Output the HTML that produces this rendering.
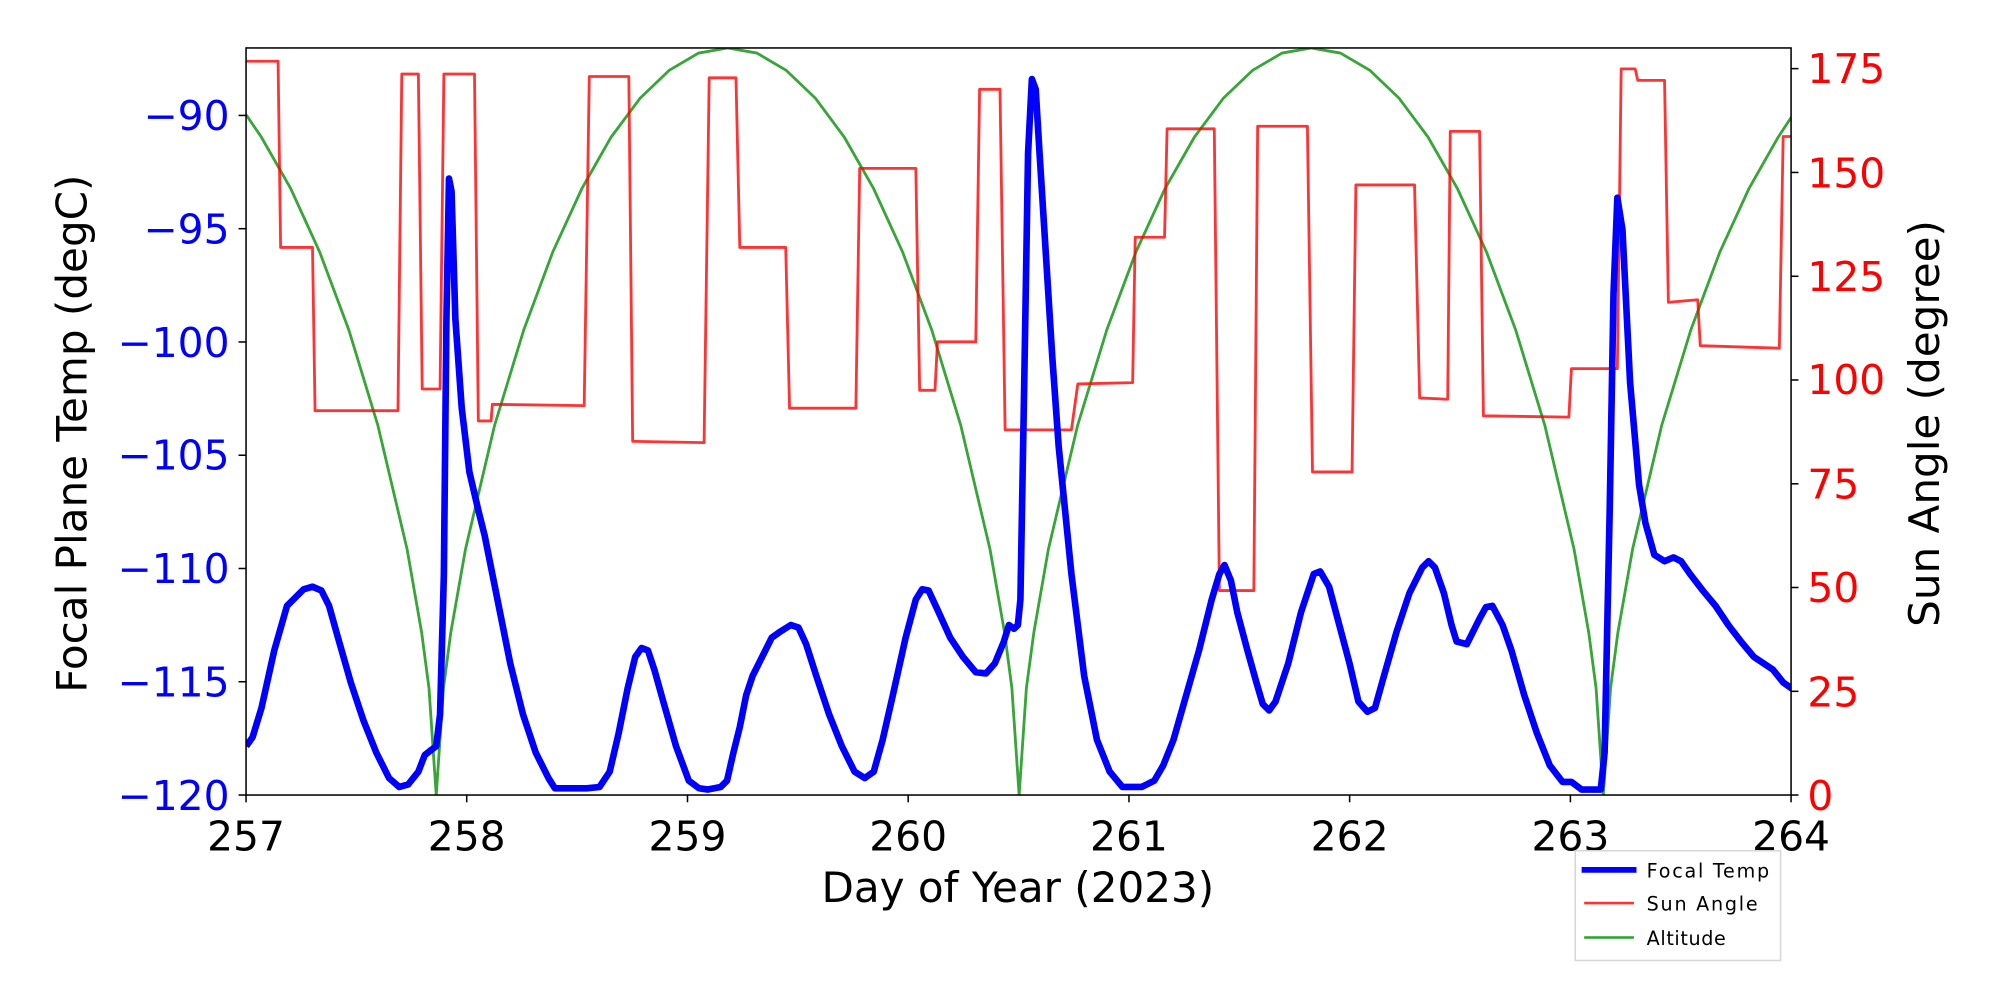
<!DOCTYPE html>
<html><head><meta charset="utf-8"><style>
html,body{margin:0;padding:0;background:#fff;}
svg{display:block;}
text{font-family:"DejaVu Sans","Liberation Sans",sans-serif;}
</style></head><body>
<svg width="2000" height="1000" viewBox="0 0 1568 784" xmlns="http://www.w3.org/2000/svg">
<rect width="1568" height="784" fill="#fff"/>
<defs><clipPath id="c"><rect x="192.9" y="37.6" width="1211.3" height="585.7"/></clipPath></defs>
<g clip-path="url(#c)" fill="none" stroke-linejoin="round">
<path stroke="#2ca02c" stroke-opacity="0.95" stroke-width="2.2" d="M193,90 L204.9,107.5 L227.8,147.6 L250.6,197.5 L273.5,258.7 L296.3,333.7 L319.2,430.8 L330.6,496.1 L336.3,539.3 L342,623.3 L347.7,539.3 L353.4,496.1 L364.9,430.8 L387.7,333.7 L410.6,258.7 L433.4,197.5 L456.3,147.6 L479.1,107.5 L502,76.8 L524.8,55 L547.7,41.6 L570.5,37.6 L593.4,41.6 L616.2,55 L639.1,76.8 L661.9,107.5 L684.8,147.6 L707.6,197.5 L730.5,258.7 L753.3,333.7 L776.2,430.8 L787.6,496.1 L793.3,539.3 L799,623.3 L804.7,539.3 L810.5,496.1 L821.9,430.8 L844.8,333.7 L867.7,258.7 L890.6,197.5 L913.5,147.6 L936.4,107.5 L959.3,76.8 L982.2,55 L1005.1,41.6 L1028,37.6 L1050.9,41.6 L1073.8,55 L1096.7,76.8 L1119.6,107.5 L1142.5,147.6 L1165.4,197.5 L1188.3,258.7 L1211.2,333.7 L1234.1,430.8 L1245.6,496.1 L1251.3,539.3 L1257,623.3 L1262.7,539.3 L1268.4,496.1 L1279.9,430.8 L1302.7,333.7 L1325.6,258.7 L1348.4,197.5 L1371.3,147.6 L1394.1,107.5 L1405,91"/>
<path stroke="#ff0000" stroke-opacity="0.8" stroke-width="2.2" d="M193,48 L218,48 L220,194 L245,194 L247,322 L312,322 L315,58 L328,58 L331,305 L345,305 L348,58 L372,58 L375,330 L385,330 L386,317 L458,318 L462,60 L493,60 L496,346 L552,347 L556,61 L577,61 L580,194 L616,194 L619,320 L671,320 L674,132 L718,132 L721,306 L733,306 L735,268 L765,268 L768,70 L784,70 L788,337 L840,337 L845,301 L888,300 L890,186 L913,186 L915,101 L952,101 L956,463 L983,463 L986,99 L1025,99 L1029,370 L1060,370 L1063,145 L1109,145 L1113,312 L1135,313 L1137,103 L1160,103 L1163,326 L1230,327 L1232,289 L1268,289 L1271,54 L1282,54 L1284,63 L1305,63 L1308,237 L1331,235 L1333,271 L1395,273 L1398,107 L1405,107"/>
<path stroke="#0000ff" stroke-width="5.2" d="M193,585 L198,578 L205,555 L215,510 L225,475 L232,468 L238,462 L245,460 L252,463 L258,475 L265,500 L275,535 L285,565 L295,590 L305,610 L313,617 L320,615 L328,605 L333,592 L338,588 L342,585 L345,560 L348,450 L350,250 L352,140 L354,150 L357,250 L362,320 L368,370 L375,400 L380,420 L390,470 L400,520 L410,560 L420,590 L430,610 L435,618 L460,618 L470,617 L478,605 L485,575 L492,540 L498,515 L503,508 L508,510 L513,525 L520,550 L530,585 L540,612 L548,618 L555,619 L565,617 L570,612 L575,590 L580,570 L585,545 L590,530 L595,520 L600,510 L605,500 L612,495 L620,490 L626,492 L632,505 L640,530 L650,560 L660,585 L670,605 L678,610 L685,605 L692,580 L700,545 L710,500 L718,470 L723,462 L728,463 L735,478 L745,500 L755,515 L765,527 L773,528 L780,520 L787,503 L791,490 L795,493 L798,490 L800,470 L803,300 L806,120 L809,62 L812,70 L815,120 L820,200 L825,280 L830,350 L840,450 L850,530 L860,580 L870,605 L880,617 L895,617 L905,612 L912,600 L920,580 L930,545 L940,510 L950,470 L956,450 L960,443 L965,455 L970,480 L978,510 L985,535 L990,552 L995,557 L1000,550 L1010,520 L1020,480 L1030,450 L1035,448 L1042,460 L1050,490 L1058,520 L1065,550 L1072,558 L1078,555 L1085,530 L1095,495 L1105,465 L1115,445 L1120,440 L1125,445 L1132,465 L1138,490 L1142,503 L1150,505 L1160,485 L1165,476 L1170,475 L1178,490 L1185,510 L1195,545 L1205,575 L1215,600 L1225,613 L1232,613 L1240,619 L1255,619 L1258,590 L1262,400 L1265,230 L1268,155 L1272,180 L1278,300 L1285,380 L1290,410 L1297,435 L1305,440 L1312,437 L1318,440 L1325,450 L1335,463 L1345,475 L1355,490 L1365,503 L1375,515 L1390,525 L1398,535 L1405,540"/>
</g>
<rect x="192.9" y="37.6" width="1211.3" height="585.7" fill="none" stroke="#000" stroke-width="1.2"/>
<g stroke="#000" stroke-width="1.2">
<line x1="192.9" y1="623.3" x2="192.9" y2="629"/><line x1="365.9" y1="623.3" x2="365.9" y2="629"/><line x1="539" y1="623.3" x2="539" y2="629"/><line x1="712" y1="623.3" x2="712" y2="629"/><line x1="885.1" y1="623.3" x2="885.1" y2="629"/><line x1="1058.1" y1="623.3" x2="1058.1" y2="629"/><line x1="1231.2" y1="623.3" x2="1231.2" y2="629"/><line x1="1404.2" y1="623.3" x2="1404.2" y2="629"/>
<line x1="187" y1="623.3" x2="192.9" y2="623.3"/><line x1="187" y1="534.5" x2="192.9" y2="534.5"/><line x1="187" y1="445.7" x2="192.9" y2="445.7"/><line x1="187" y1="356.9" x2="192.9" y2="356.9"/><line x1="187" y1="268.1" x2="192.9" y2="268.1"/><line x1="187" y1="179.3" x2="192.9" y2="179.3"/><line x1="187" y1="90.5" x2="192.9" y2="90.5"/>
<line x1="1404.2" y1="623.3" x2="1410" y2="623.3"/><line x1="1404.2" y1="542" x2="1410" y2="542"/><line x1="1404.2" y1="460.6" x2="1410" y2="460.6"/><line x1="1404.2" y1="379.3" x2="1410" y2="379.3"/><line x1="1404.2" y1="297.9" x2="1410" y2="297.9"/><line x1="1404.2" y1="216.6" x2="1410" y2="216.6"/><line x1="1404.2" y1="135.2" x2="1410" y2="135.2"/><line x1="1404.2" y1="53.8" x2="1410" y2="53.8"/>
</g>
<g font-size="32" text-anchor="middle" fill="#000">
<text x="192.9" y="667">257</text><text x="365.9" y="667">258</text><text x="539" y="667">259</text><text x="712" y="667">260</text><text x="885.1" y="667">261</text><text x="1058.1" y="667">262</text><text x="1231.2" y="667">263</text><text x="1404.2" y="667">264</text>
</g>
<g font-size="32" text-anchor="end" fill="#0000ff">
<text x="180" y="635">−120</text><text x="180" y="546">−115</text><text x="180" y="457">−110</text><text x="180" y="368">−105</text><text x="180" y="280">−100</text><text x="180" y="191">−95</text><text x="180" y="102">−90</text>
</g>
<g font-size="32" text-anchor="start" fill="#ff0000">
<text x="1417" y="635">0</text><text x="1417" y="554">25</text><text x="1417" y="472">50</text><text x="1417" y="391">75</text><text x="1417" y="309">100</text><text x="1417" y="228">125</text><text x="1417" y="147">150</text><text x="1417" y="65">175</text>
</g>
<text x="798" y="707" font-size="33" text-anchor="middle">Day of Year (2023)</text>
<text transform="translate(68,340) rotate(-90)" font-size="33" text-anchor="middle">Focal Plane Temp (degC)</text>
<text transform="translate(1520,332) rotate(-90)" font-size="33" text-anchor="middle">Sun Angle (degree)</text>
<rect x="1235" y="667" width="161" height="86" fill="#fff" stroke="#d6d6d6" stroke-width="1.2"/>
<line x1="1240" y1="682" x2="1283" y2="682" stroke="#0000ff" stroke-width="4.5"/>
<line x1="1242" y1="708" x2="1281" y2="708" stroke="#ff0000" stroke-opacity="0.8" stroke-width="2"/>
<line x1="1242" y1="735" x2="1281" y2="735" stroke="#2ca02c" stroke-width="2"/>
<g font-size="15" fill="#000">
<text x="1291" y="688" textLength="96">Focal Temp</text>
<text x="1291" y="714" textLength="87">Sun Angle</text>
<text x="1291" y="741" textLength="62">Altitude</text>
</g>
</svg>
</body></html>
